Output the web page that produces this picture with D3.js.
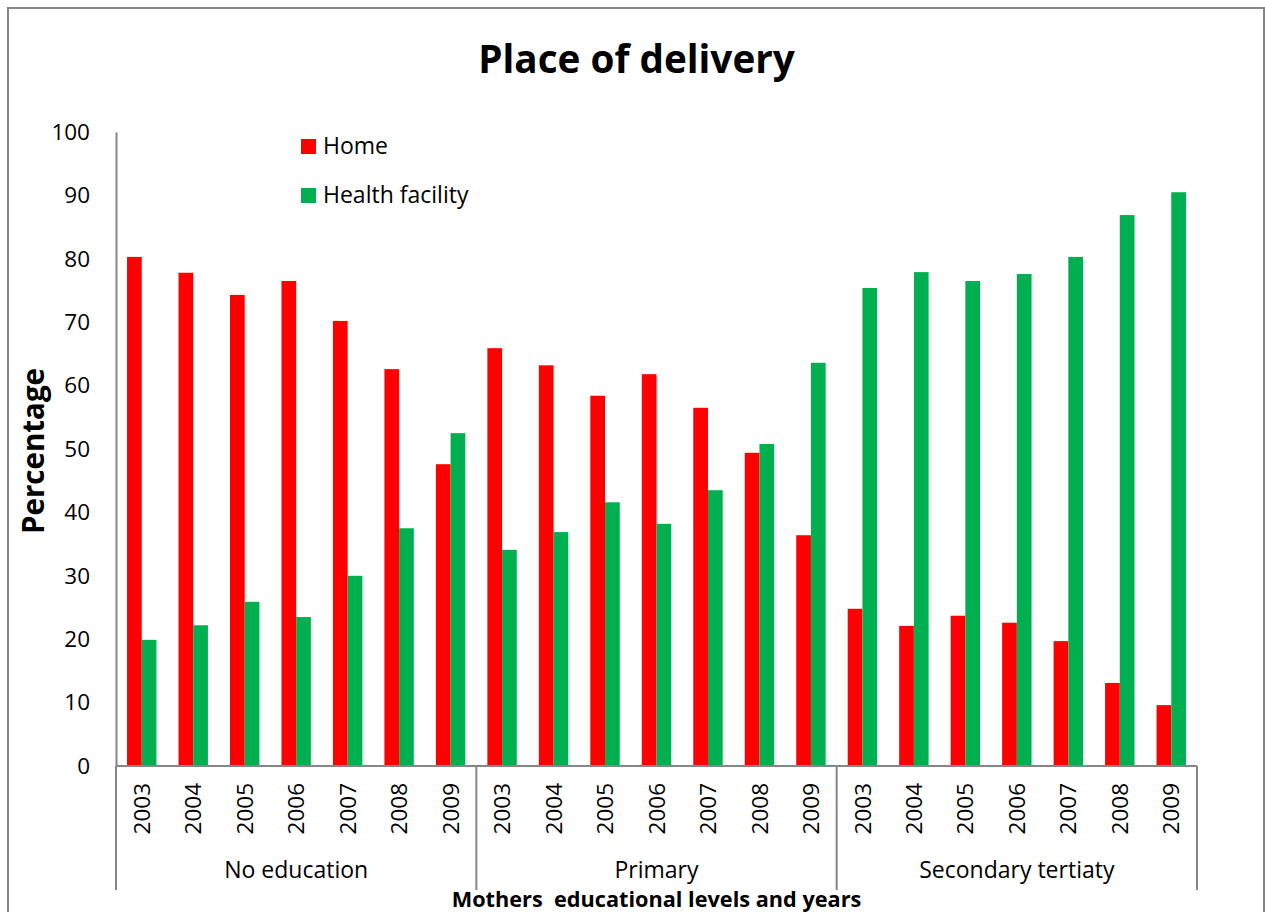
<!DOCTYPE html>
<html>
<head>
<meta charset="utf-8">
<script src="https://cdn.jsdelivr.net/npm/d3@7"></script>
<style>
  html, body { margin: 0; padding: 0; background: #fff; }
  svg { display: block; }
  text { font-family: "Open Sans", sans-serif; fill: #000; }
</style>
</head>
<body>
<svg id="chart" width="1265" height="912"></svg>
<script>
const groups = ["No education", "Primary", "Secondary tertiaty"];
const years = ["2003", "2004", "2005", "2006", "2007", "2008", "2009"];
const seriesNames = ["Home", "Health facility"];
const seriesColors = ["#FF0000", "#00B050"];
const homeValues = [
  80.3, 77.8, 74.3, 76.5, 70.2, 62.6, 47.6,
  65.9, 63.2, 58.4, 61.8, 56.5, 49.4, 36.4,
  24.8, 22.1, 23.7, 22.6, 19.7, 13.1, 9.6
];
const facilityValues = [
  19.9, 22.2, 25.9, 23.5, 30.0, 37.5, 52.5,
  34.1, 36.9, 41.6, 38.2, 43.5, 50.8, 63.6,
  75.4, 77.9, 76.5, 77.6, 80.3, 86.9, 90.5
];
const yTicks = [0, 10, 20, 30, 40, 50, 60, 70, 80, 90, 100];
const chartTitle = "Place of delivery";
const yTitle = "Percentage";
const xTitle = "Mothers  educational levels and years";

(function () {
const svg = d3.select("#chart");
const axisColor = "#868686";

// outer frame
svg.append("rect")
  .attr("x", 8).attr("y", 8).attr("width", 1256).attr("height", 1000)
  .attr("fill", "none").attr("stroke", axisColor).attr("stroke-width", 2);

const pLeft = 116, pRight = 1197, pTop = 132, pBottom = 766;

const cats = [];
groups.forEach(g => years.forEach(y => cats.push(g + "|" + y)));
const rows = cats.map((c, i) => ({ key: c, group: c.split("|")[0], year: c.split("|")[1], values: [homeValues[i], facilityValues[i]] }));

const x = d3.scaleBand().domain(cats).range([pLeft, pRight]).padding(0);
const xs = d3.scaleBand().domain(seriesNames).range([0, x.bandwidth()]).paddingInner(0).paddingOuter(0.75);
const y = d3.scaleLinear().domain([0, 100]).range([pBottom, pTop]);

// bars
const gb = svg.append("g");
rows.forEach(r => {
  seriesNames.forEach((s, si) => {
    gb.append("rect")
      .attr("x", x(r.key) + xs(s))
      .attr("width", xs.bandwidth())
      .attr("y", y(r.values[si]))
      .attr("height", y(0) - y(r.values[si]))
      .attr("fill", seriesColors[si]);
  });
});

// y axis
const yAxis = d3.axisLeft(y).tickValues(yTicks).tickSize(0).tickPadding(26);
const ya = svg.append("g").attr("transform", `translate(${pLeft},0)`).call(yAxis);
ya.select(".domain").attr("stroke", axisColor).attr("stroke-width", 2);
ya.selectAll("text").attr("font-size", 22.5).attr("font-family", "Open Sans").attr("fill", "#000");

// x axis baseline
svg.append("line")
  .attr("x1", pLeft).attr("x2", pRight).attr("y1", pBottom).attr("y2", pBottom)
  .attr("stroke", axisColor).attr("stroke-width", 2);

// group separators
const sepX = [0, 7, 14, 21].map(i => i < 21 ? x(cats[i]) : pRight);
sepX.forEach(sx => {
  svg.append("line")
    .attr("x1", sx).attr("x2", sx).attr("y1", pBottom).attr("y2", 890)
    .attr("stroke", axisColor).attr("stroke-width", 2);
});

// year labels
rows.forEach(r => {
  const cx = x(r.key) + x.bandwidth() / 2;
  svg.append("text")
    .attr("transform", `translate(${cx},783) rotate(-90)`)
    .attr("text-anchor", "end")
    .attr("dy", "0.36em")
    .attr("font-size", 22.5)
    .text(r.year);
});

// group labels
groups.forEach((gname, gi) => {
  const gx = (sepX[gi] + sepX[gi + 1]) / 2;
  svg.append("text")
    .attr("x", gx).attr("y", 877.5)
    .attr("text-anchor", "middle")
    .attr("font-size", 23)
    .text(gname);
});

// titles
svg.append("text")
  .attr("x", 636.5).attr("y", 73)
  .attr("text-anchor", "middle")
  .attr("font-size", 38.7).attr("font-weight", "bold")
  .text(chartTitle);

svg.append("text")
  .attr("transform", "translate(44,451) rotate(-90)")
  .attr("text-anchor", "middle")
  .attr("font-size", 29.5).attr("font-weight", "bold")
  .text(yTitle);

svg.append("text")
  .attr("x", 656.5).attr("y", 907.3)
  .attr("text-anchor", "middle")
  .attr("font-size", 21.7).attr("font-weight", "bold")
  .style("white-space", "pre")
  .text(xTitle);

// legend
const legendY = [139, 188];
seriesNames.forEach((s, si) => {
  svg.append("rect")
    .attr("x", 301).attr("y", legendY[si]).attr("width", 15).attr("height", 15)
    .attr("fill", seriesColors[si]);
  svg.append("text")
    .attr("x", 323).attr("y", legendY[si] + 15)
    .attr("font-size", 23)
    .text(s);
});
})();
</script>
</body>
</html>
